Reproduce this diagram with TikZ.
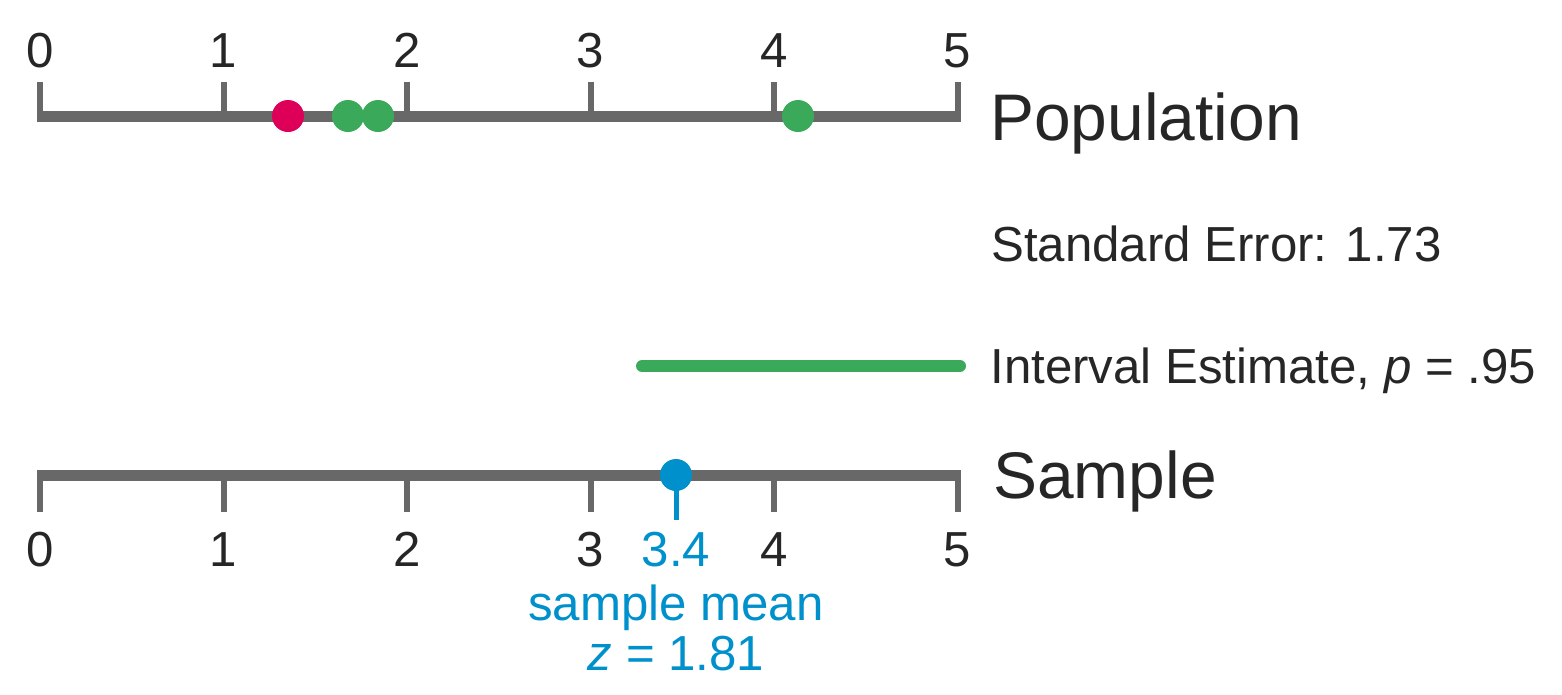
\documentclass[tikz,border=0pt]{standalone}
\usepackage{fontspec}
\setmainfont{Liberation Sans}
\usetikzlibrary{positioning}
\definecolor{axisgray}{HTML}{686868}
\definecolor{dotred}{HTML}{DE0058}
\definecolor{dotgreen}{HTML}{3AAA5A}
\definecolor{meanblue}{HTML}{0090CC}
\definecolor{txt}{HTML}{262626}

\begin{document}
\begin{tikzpicture}[x=0.02cm,y=-0.02cm,
    axis/.style={axisgray,line width=0.22cm,shorten <=-0.06cm,shorten >=-0.06cm},
    tick/.style={axisgray,line width=0.12cm},
    ticklabel/.style={txt,font=\fontsize{28}{30}\selectfont,inner sep=0,anchor=base},
    bigtext/.style={txt,font=\fontsize{37.5}{40}\selectfont,anchor=base west,inner sep=0},
    smalltext/.style={txt,font=\fontsize{28}{30}\selectfont,anchor=base west,inner sep=0},
    bluetext/.style={meanblue,font=\fontsize{28}{30}\selectfont,anchor=base,inner sep=0},
    dot/.style={circle,fill,inner sep=0,minimum size=0.64cm}]
    \useasboundingbox (0,0) rectangle (1562,694);
            % population axis
            \foreach \i in {0,...,5}
                {
                \coordinate (p\i) at ({40+183.5*\i},116);
                \coordinate (pt\i) at ({40+183.5*\i},82);
                \draw[tick] (p\i) -- (pt\i);
                \node[ticklabel] (pl\i) at ({40+183.5*\i},67) {\i};
                }
            \draw[axis] (p0) -- (p5);
            % sample axis
            \foreach \i in {0,...,5}
                {
                \coordinate (s\i) at ({40+183.5*\i},475);
                \coordinate (st\i) at ({40+183.5*\i},512);
                \draw[tick] (s\i) -- (st\i);
                \node[ticklabel] (sl\i) at ({40+183.5*\i},566) {\i};
                }
            \draw[axis] (s0) -- (s5);
            % population values
            \node[dot,dotred] (red) at (288,116) {};
            \node[dot,dotgreen] (g1) at (348,116) {};
            \node[dot,dotgreen] (g2) at (378,116) {};
            \node[dot,dotgreen] (g3) at (798,116) {};
            % interval estimate
            \coordinate (ilo) at (642,366);
            \coordinate (ihi) at (960,366);
            \draw[dotgreen,line width=0.24cm,line cap=round] (ilo) -- (ihi);
            % sample mean
            \coordinate (stem) at (676,520);
            \draw[meanblue,line width=0.1cm] (676,475) -- (stem);
            \node[dot,meanblue] (mean) at (676,475) {};
            \node[bluetext] (meanval) at (676,566) {3.4};
            \node[bluetext] (meanname) at (676,620) {sample mean};
            \node[bluetext] (meanz) at (676,670) {\textit{z} = 1.81};
            % labels
            \node[bigtext] (pop) at (990,140) {Population};
            \node[smalltext] (se) at (991,261) {Standard Error: 1.73};
            \node[smalltext] (ie) at (990,383) {Interval Estimate, \textit{p} = .95};
            \node[bigtext] (samp) at (993,498) {Sample};
\end{tikzpicture}
\end{document}
